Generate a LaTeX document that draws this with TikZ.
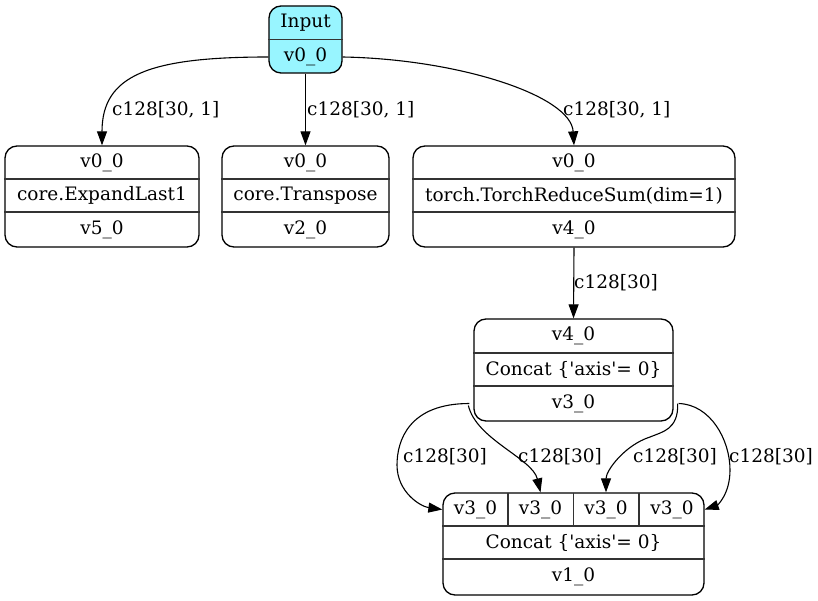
\documentclass[tikz,border=0pt]{standalone}
\usepackage{fontspec}
\setmainfont{DejaVu Serif}
\usetikzlibrary{arrows.meta,calc}
\definecolor{inputfill}{HTML}{98F5FF}
\newcommand{\sq}{\textquotesingle}
\begin{document}
\begin{tikzpicture}[x=1pt,y=-1pt,
  every node/.style={font=\fontsize{18.5}{22}\selectfont},
  rec/.style={draw, line width=1.3pt, rounded corners=12pt, inner sep=0pt},
  sep/.style={line width=1.2pt, draw=black!80},
  fld/.style={inner sep=0pt, anchor=center},
  edge/.style={line width=1.1pt, -{Triangle[length=14pt,width=10pt]}},
  lbl/.style={inner sep=0pt, anchor=west}]
\useasboundingbox (0,0) rectangle (818,601);

% ---- Input record
\node[rec, fill=inputfill, minimum width=73pt, minimum height=67pt] (in) at (305.5,39.5) {};
\draw[sep] (in.west |- 0,39.5) -- (in.east |- 0,39.5);
\node[fld] (inh) at (305.5,23) {Input};
\node[fld] (inv) at (305.5,57) {v0\_0};

% ---- ExpandLast1 record
\node[rec, minimum width=194pt, minimum height=101pt] (A) at (102,196.5) {};
\draw[sep] (A.west |- 0,179) -- (A.east |- 0,179);
\draw[sep] (A.west |- 0,212) -- (A.east |- 0,212);
\node[fld] (a1) at (102,162.5) {v0\_0};
\node[fld] (a2) at (102,195.5) {core.ExpandLast1};
\node[fld] (a3) at (102,229.5) {v5\_0};

% ---- Transpose record
\node[rec, minimum width=167pt, minimum height=101pt] (B) at (305.5,196.5) {};
\draw[sep] (B.west |- 0,179) -- (B.east |- 0,179);
\draw[sep] (B.west |- 0,212) -- (B.east |- 0,212);
\node[fld] (b1) at (305.5,162.5) {v0\_0};
\node[fld] (b2) at (305.5,195.5) {core.Transpose};
\node[fld] (b3) at (305.5,229.5) {v2\_0};

% ---- ReduceSum record
\node[rec, minimum width=322pt, minimum height=101pt] (C) at (574,196.5) {};
\draw[sep] (C.west |- 0,179) -- (C.east |- 0,179);
\draw[sep] (C.west |- 0,212) -- (C.east |- 0,212);
\node[fld] (c1) at (574,162.5) {v0\_0};
\node[fld] (c2) at (574,195.5) {torch.TorchReduceSum(dim=1)};
\node[fld] (c3) at (574,229.5) {v4\_0};

% ---- first Concat record
\node[rec, minimum width=199pt, minimum height=102pt] (D) at (573.5,370) {};
\draw[sep] (D.west |- 0,353) -- (D.east |- 0,353);
\draw[sep] (D.west |- 0,386) -- (D.east |- 0,386);
\node[fld] (d1) at (573.5,336) {v4\_0};
\node[fld] (d2) at (573.5,369.5) {Concat \{\sq axis\sq= 0\}};
\node[fld] (d3) at (573.5,403.5) {v3\_0};

% ---- second Concat record with four input ports
\node[rec, minimum width=261pt, minimum height=102pt] (E) at (573.5,544) {};
\draw[sep] (E.west |- 0,526) -- (E.east |- 0,526);
\draw[sep] (E.west |- 0,559) -- (E.east |- 0,559);
\draw[sep] (508,493) -- (508,526);
\draw[sep] (573.5,493) -- (573.5,526);
\draw[sep] (639,493) -- (639,526);
\node[fld] (e1) at (475.5,509.5) {v3\_0};
\node[fld] (e2) at (540.5,509.5) {v3\_0};
\node[fld] (e3) at (606,509.5) {v3\_0};
\node[fld] (e4) at (672,509.5) {v3\_0};
\node[fld] (e5) at (573.5,542.5) {Concat \{\sq axis\sq= 0\}};
\node[fld] (e6) at (573.5,577) {v1\_0};

% ---- connectors
\draw[edge] (in.west |- inv) .. controls +(-120,0) and +(0,-70) .. (A.north);
\draw[edge] (in.south) -- (B.north);
\draw[edge] (in.east |- inv) .. controls +(115,2) and +(-3,-50) .. (C.north);
\draw[edge] (C.south) -- (D.north);

\draw[edge] ($(D.west |- d3)+(-4,0)$) .. controls +(-60,0) and +(0,-25) .. (397,465)
  .. controls +(0,27) and +(-22,-3) .. (E.west |- e1);
\draw[edge] ($(D.west |- d3)+(-5,2)$) .. controls +(8,34) and +(-8,-34) .. (E.north -| e2);
\draw[edge] ($(D.east |- d3)+(4,0)$) .. controls +(1,26) and +(12,-5) .. (650,437)
  .. controls +(-25,8) and +(0,-22) .. (E.north -| e3);
\draw[edge] ($(D.east |- d3)+(5,0)$) .. controls +(32,1) and +(0,-30) .. (730,470)
  .. controls +(0,25) and +(12,-4) .. (E.east |- e4);

% ---- connector labels
\node[lbl] (l1) at (112,110) {c128[30, 1]};
\node[lbl] (l2) at (307,110) {c128[30, 1]};
\node[lbl] (l3) at (563,110) {c128[30, 1]};
\node[lbl] (l4) at (574,283) {c128[30]};
\node[lbl] (l5) at (403,457) {c128[30]};
\node[lbl] (l6) at (518,457) {c128[30]};
\node[lbl] (l7) at (633,457) {c128[30]};
\node[lbl] (l8) at (729,457) {c128[30]};
\end{tikzpicture}
\end{document}
